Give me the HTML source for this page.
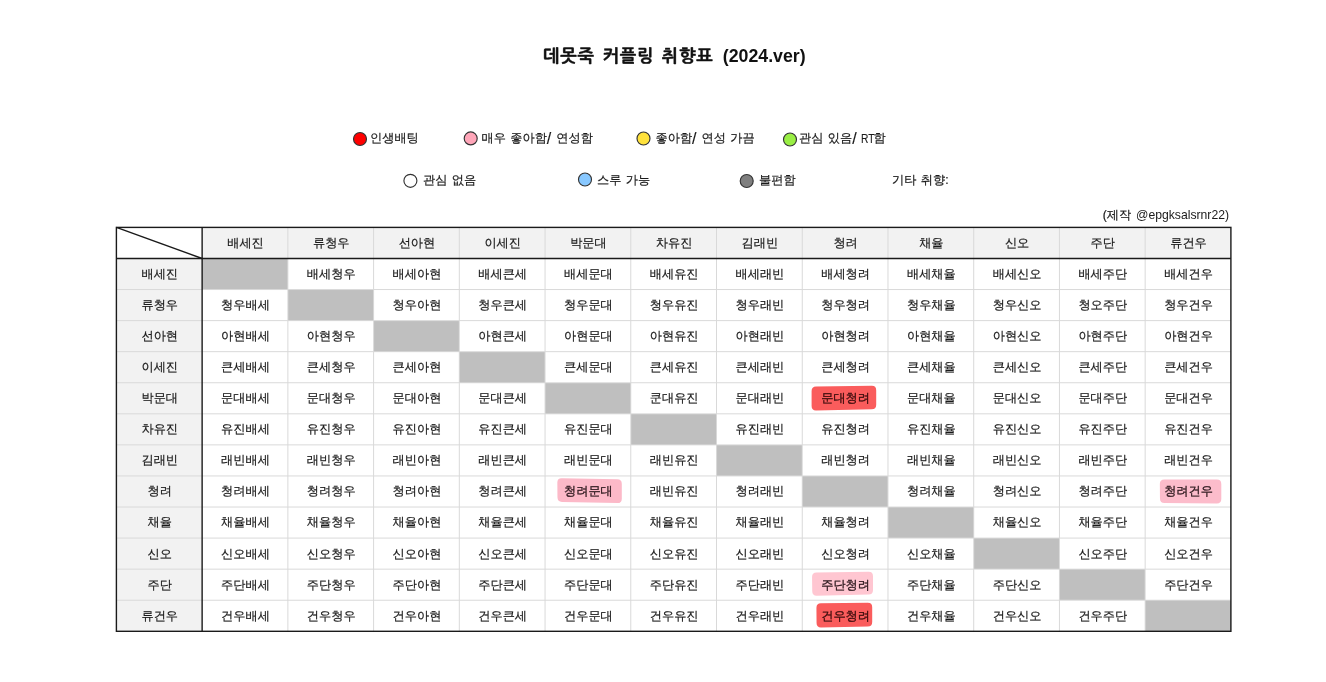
<!DOCTYPE html>
<html lang="ko">
<head>
<meta charset="utf-8">
<title>데못죽 커플링 취향표 (2024.ver)</title>
<style>
html,body{margin:0;padding:0;background:#fff;}
body{width:1326px;height:682px;position:relative;overflow:hidden;font-family:"Liberation Sans","WenQuanYi Zen Hei","NanumGothic","Noto Sans CJK KR",sans-serif;color:#1a1a1a;}
.abs{position:absolute;white-space:nowrap;}
.title{left:543px;top:40.5px;font-family:"Liberation Sans","NanumGothic","Noto Sans CJK KR",sans-serif;font-size:17.5px;font-weight:700;line-height:30px;color:#111;word-spacing:4.3px;}
.title .ko{letter-spacing:0.8px;word-spacing:2px;-webkit-text-stroke:0.45px #111;}
.title .en{font-size:17.75px;}
.lg{word-spacing:1px;font-size:12.2px;line-height:20px;color:#1a1a1a;-webkit-text-stroke:0.2px #1a1a1a;}
.sl{font-size:16px;line-height:1;margin-right:0.6px;position:relative;top:1.6px;-webkit-text-stroke:0.15px #1a1a1a;}
.rt{display:inline-block;font-size:12.8px;line-height:1;transform:scaleX(0.8);transform-origin:0 50%;margin:0 -4.4px 0 -0.6px;position:relative;top:1.2px;-webkit-text-stroke:0.1px #1a1a1a;}
.en2{-webkit-text-stroke:0;}
.credit{word-spacing:1.5px;font-size:12.2px;line-height:16px;color:#1a1a1a;-webkit-text-stroke:0.2px #1a1a1a;}
.c{position:absolute;display:flex;align-items:center;justify-content:center;font-family:"Liberation Sans","WenQuanYi Zen Hei","NanumGothic","Noto Sans CJK KR",sans-serif;font-size:12.2px;line-height:1;color:#1a1a1a;-webkit-text-stroke:0.2px #1a1a1a;white-space:nowrap;box-sizing:border-box;padding-left:1px;}
.h{background:#f2f2f2;}
.hl-red{color:#3a0c0c;-webkit-text-stroke:0.3px #3a0c0c;}
.hl-pink,.hl-pink2{color:#2c181d;-webkit-text-stroke:0.3px #2c181d;}
.g{background:#bfbfbf;}
svg{position:absolute;left:0;top:0;}
</style>
</head>
<body>
<div class="abs title"><span class="ko">데못죽 커플링 취향표</span> <span class="en">(2024.ver)</span></div>
<div class="abs lg" style="left:370.0px;top:128.3px">인생배팅</div>
<div class="abs lg" style="left:481.5px;top:128.3px">매우 좋아함<span class="sl">/</span> 연성함</div>
<div class="abs lg" style="left:655.5px;top:128.3px">좋아함<span class="sl">/</span> 연성 가끔</div>
<div class="abs lg" style="left:799.0px;top:128.3px">관심 있음<span class="sl">/</span> <span class="rt">RT</span>함</div>
<div class="abs lg" style="left:423.0px;top:170.1px">관심 없음</div>
<div class="abs lg" style="left:597.0px;top:170.1px">스루 가능</div>
<div class="abs lg" style="left:759.0px;top:170.1px">불편함</div>
<div class="abs lg" style="left:892px;top:170.1px">기타 취향:</div>
<div class="abs credit" style="right:97.0px;top:207px">(제작 <span class="en2">@epgksalsrnr22)</span></div>
<svg width="1326" height="682" viewBox="0 0 1326 682"><defs><filter id="soft" x="-10%" y="-20%" width="120%" height="140%"><feGaussianBlur stdDeviation="0.45"/></filter></defs><g filter="url(#soft)">
<path d="M811.60 391.10 Q811.60 386.60 816.10 386.54 L871.70 385.76 Q876.20 385.70 876.20 390.20 L876.20 404.70 Q876.20 409.20 871.70 409.29 L816.10 410.41 Q811.60 410.50 811.60 406.00Z" fill="#fa5c5c"/>
<path d="M816.44 607.90 Q816.40 603.40 820.90 603.35 L867.70 602.85 Q872.20 602.80 872.20 607.30 L872.20 622.00 Q872.20 626.50 867.70 626.59 L821.10 627.51 Q816.60 627.60 816.56 623.10Z" fill="#fa5c5c"/>
<path d="M812.06 577.10 Q812.00 572.60 816.50 572.53 L868.50 571.77 Q873.00 571.70 873.00 576.20 L873.00 590.00 Q873.00 594.50 868.50 594.60 L816.80 595.70 Q812.30 595.80 812.24 591.30Z" fill="#ffc6d1"/>
<path d="M557.34 482.60 Q557.30 478.10 561.80 478.19 L617.30 479.31 Q621.80 479.40 621.80 483.90 L621.80 498.70 Q621.80 503.20 617.30 503.10 L562.00 501.90 Q557.50 501.80 557.46 497.30Z" fill="#fcb9c8"/>
<path d="M1159.84 484.10 Q1159.80 479.60 1164.30 479.59 L1216.80 479.41 Q1221.30 479.40 1221.30 483.90 L1221.30 499.10 Q1221.30 503.60 1216.80 503.56 L1164.50 503.04 Q1160.00 503.00 1159.96 498.50Z" fill="#fcbccb"/>
</g></svg>
<div class="c h" style="left:202.13px;top:227.40px;width:85.73px;height:31.07px">배세진</div>
<div class="c h" style="left:116.40px;top:258.47px;width:85.73px;height:31.07px">배세진</div>
<div class="c h" style="left:287.86px;top:227.40px;width:85.73px;height:31.07px">류청우</div>
<div class="c h" style="left:116.40px;top:289.54px;width:85.73px;height:31.07px">류청우</div>
<div class="c h" style="left:373.59px;top:227.40px;width:85.73px;height:31.07px">선아현</div>
<div class="c h" style="left:116.40px;top:320.61px;width:85.73px;height:31.07px">선아현</div>
<div class="c h" style="left:459.32px;top:227.40px;width:85.73px;height:31.07px">이세진</div>
<div class="c h" style="left:116.40px;top:351.68px;width:85.73px;height:31.07px">이세진</div>
<div class="c h" style="left:545.05px;top:227.40px;width:85.73px;height:31.07px">박문대</div>
<div class="c h" style="left:116.40px;top:382.75px;width:85.73px;height:31.07px">박문대</div>
<div class="c h" style="left:630.78px;top:227.40px;width:85.73px;height:31.07px">차유진</div>
<div class="c h" style="left:116.40px;top:413.82px;width:85.73px;height:31.07px">차유진</div>
<div class="c h" style="left:716.52px;top:227.40px;width:85.73px;height:31.07px">김래빈</div>
<div class="c h" style="left:116.40px;top:444.88px;width:85.73px;height:31.07px">김래빈</div>
<div class="c h" style="left:802.25px;top:227.40px;width:85.73px;height:31.07px">청려</div>
<div class="c h" style="left:116.40px;top:475.95px;width:85.73px;height:31.07px">청려</div>
<div class="c h" style="left:887.98px;top:227.40px;width:85.73px;height:31.07px">채율</div>
<div class="c h" style="left:116.40px;top:507.02px;width:85.73px;height:31.07px">채율</div>
<div class="c h" style="left:973.71px;top:227.40px;width:85.73px;height:31.07px">신오</div>
<div class="c h" style="left:116.40px;top:538.09px;width:85.73px;height:31.07px">신오</div>
<div class="c h" style="left:1059.44px;top:227.40px;width:85.73px;height:31.07px">주단</div>
<div class="c h" style="left:116.40px;top:569.16px;width:85.73px;height:31.07px">주단</div>
<div class="c h" style="left:1145.17px;top:227.40px;width:85.73px;height:31.07px">류건우</div>
<div class="c h" style="left:116.40px;top:600.23px;width:85.73px;height:31.07px">류건우</div>
<div class="c g" style="left:202.13px;top:258.47px;width:85.73px;height:31.07px"></div>
<div class="c" style="left:287.86px;top:258.47px;width:85.73px;height:31.07px">배세청우</div>
<div class="c" style="left:373.59px;top:258.47px;width:85.73px;height:31.07px">배세아현</div>
<div class="c" style="left:459.32px;top:258.47px;width:85.73px;height:31.07px">배세큰세</div>
<div class="c" style="left:545.05px;top:258.47px;width:85.73px;height:31.07px">배세문대</div>
<div class="c" style="left:630.78px;top:258.47px;width:85.73px;height:31.07px">배세유진</div>
<div class="c" style="left:716.52px;top:258.47px;width:85.73px;height:31.07px">배세래빈</div>
<div class="c" style="left:802.25px;top:258.47px;width:85.73px;height:31.07px">배세청려</div>
<div class="c" style="left:887.98px;top:258.47px;width:85.73px;height:31.07px">배세채율</div>
<div class="c" style="left:973.71px;top:258.47px;width:85.73px;height:31.07px">배세신오</div>
<div class="c" style="left:1059.44px;top:258.47px;width:85.73px;height:31.07px">배세주단</div>
<div class="c" style="left:1145.17px;top:258.47px;width:85.73px;height:31.07px">배세건우</div>
<div class="c" style="left:202.13px;top:289.54px;width:85.73px;height:31.07px">청우배세</div>
<div class="c g" style="left:287.86px;top:289.54px;width:85.73px;height:31.07px"></div>
<div class="c" style="left:373.59px;top:289.54px;width:85.73px;height:31.07px">청우아현</div>
<div class="c" style="left:459.32px;top:289.54px;width:85.73px;height:31.07px">청우큰세</div>
<div class="c" style="left:545.05px;top:289.54px;width:85.73px;height:31.07px">청우문대</div>
<div class="c" style="left:630.78px;top:289.54px;width:85.73px;height:31.07px">청우유진</div>
<div class="c" style="left:716.52px;top:289.54px;width:85.73px;height:31.07px">청우래빈</div>
<div class="c" style="left:802.25px;top:289.54px;width:85.73px;height:31.07px">청우청려</div>
<div class="c" style="left:887.98px;top:289.54px;width:85.73px;height:31.07px">청우채율</div>
<div class="c" style="left:973.71px;top:289.54px;width:85.73px;height:31.07px">청우신오</div>
<div class="c" style="left:1059.44px;top:289.54px;width:85.73px;height:31.07px">청오주단</div>
<div class="c" style="left:1145.17px;top:289.54px;width:85.73px;height:31.07px">청우건우</div>
<div class="c" style="left:202.13px;top:320.61px;width:85.73px;height:31.07px">아현배세</div>
<div class="c" style="left:287.86px;top:320.61px;width:85.73px;height:31.07px">아현청우</div>
<div class="c g" style="left:373.59px;top:320.61px;width:85.73px;height:31.07px"></div>
<div class="c" style="left:459.32px;top:320.61px;width:85.73px;height:31.07px">아현큰세</div>
<div class="c" style="left:545.05px;top:320.61px;width:85.73px;height:31.07px">아현문대</div>
<div class="c" style="left:630.78px;top:320.61px;width:85.73px;height:31.07px">아현유진</div>
<div class="c" style="left:716.52px;top:320.61px;width:85.73px;height:31.07px">아현래빈</div>
<div class="c" style="left:802.25px;top:320.61px;width:85.73px;height:31.07px">아현청려</div>
<div class="c" style="left:887.98px;top:320.61px;width:85.73px;height:31.07px">아현채율</div>
<div class="c" style="left:973.71px;top:320.61px;width:85.73px;height:31.07px">아현신오</div>
<div class="c" style="left:1059.44px;top:320.61px;width:85.73px;height:31.07px">아현주단</div>
<div class="c" style="left:1145.17px;top:320.61px;width:85.73px;height:31.07px">아현건우</div>
<div class="c" style="left:202.13px;top:351.68px;width:85.73px;height:31.07px">큰세배세</div>
<div class="c" style="left:287.86px;top:351.68px;width:85.73px;height:31.07px">큰세청우</div>
<div class="c" style="left:373.59px;top:351.68px;width:85.73px;height:31.07px">큰세아현</div>
<div class="c g" style="left:459.32px;top:351.68px;width:85.73px;height:31.07px"></div>
<div class="c" style="left:545.05px;top:351.68px;width:85.73px;height:31.07px">큰세문대</div>
<div class="c" style="left:630.78px;top:351.68px;width:85.73px;height:31.07px">큰세유진</div>
<div class="c" style="left:716.52px;top:351.68px;width:85.73px;height:31.07px">큰세래빈</div>
<div class="c" style="left:802.25px;top:351.68px;width:85.73px;height:31.07px">큰세청려</div>
<div class="c" style="left:887.98px;top:351.68px;width:85.73px;height:31.07px">큰세채율</div>
<div class="c" style="left:973.71px;top:351.68px;width:85.73px;height:31.07px">큰세신오</div>
<div class="c" style="left:1059.44px;top:351.68px;width:85.73px;height:31.07px">큰세주단</div>
<div class="c" style="left:1145.17px;top:351.68px;width:85.73px;height:31.07px">큰세건우</div>
<div class="c" style="left:202.13px;top:382.75px;width:85.73px;height:31.07px">문대배세</div>
<div class="c" style="left:287.86px;top:382.75px;width:85.73px;height:31.07px">문대청우</div>
<div class="c" style="left:373.59px;top:382.75px;width:85.73px;height:31.07px">문대아현</div>
<div class="c" style="left:459.32px;top:382.75px;width:85.73px;height:31.07px">문대큰세</div>
<div class="c g" style="left:545.05px;top:382.75px;width:85.73px;height:31.07px"></div>
<div class="c" style="left:630.78px;top:382.75px;width:85.73px;height:31.07px">쿤대유진</div>
<div class="c" style="left:716.52px;top:382.75px;width:85.73px;height:31.07px">문대래빈</div>
<div class="c hl-red" style="left:802.25px;top:382.75px;width:85.73px;height:31.07px">문대청려</div>
<div class="c" style="left:887.98px;top:382.75px;width:85.73px;height:31.07px">문대채율</div>
<div class="c" style="left:973.71px;top:382.75px;width:85.73px;height:31.07px">문대신오</div>
<div class="c" style="left:1059.44px;top:382.75px;width:85.73px;height:31.07px">문대주단</div>
<div class="c" style="left:1145.17px;top:382.75px;width:85.73px;height:31.07px">문대건우</div>
<div class="c" style="left:202.13px;top:413.82px;width:85.73px;height:31.07px">유진배세</div>
<div class="c" style="left:287.86px;top:413.82px;width:85.73px;height:31.07px">유진청우</div>
<div class="c" style="left:373.59px;top:413.82px;width:85.73px;height:31.07px">유진아현</div>
<div class="c" style="left:459.32px;top:413.82px;width:85.73px;height:31.07px">유진큰세</div>
<div class="c" style="left:545.05px;top:413.82px;width:85.73px;height:31.07px">유진문대</div>
<div class="c g" style="left:630.78px;top:413.82px;width:85.73px;height:31.07px"></div>
<div class="c" style="left:716.52px;top:413.82px;width:85.73px;height:31.07px">유진래빈</div>
<div class="c" style="left:802.25px;top:413.82px;width:85.73px;height:31.07px">유진청려</div>
<div class="c" style="left:887.98px;top:413.82px;width:85.73px;height:31.07px">유진채율</div>
<div class="c" style="left:973.71px;top:413.82px;width:85.73px;height:31.07px">유진신오</div>
<div class="c" style="left:1059.44px;top:413.82px;width:85.73px;height:31.07px">유진주단</div>
<div class="c" style="left:1145.17px;top:413.82px;width:85.73px;height:31.07px">유진건우</div>
<div class="c" style="left:202.13px;top:444.88px;width:85.73px;height:31.07px">래빈배세</div>
<div class="c" style="left:287.86px;top:444.88px;width:85.73px;height:31.07px">래빈청우</div>
<div class="c" style="left:373.59px;top:444.88px;width:85.73px;height:31.07px">래빈아현</div>
<div class="c" style="left:459.32px;top:444.88px;width:85.73px;height:31.07px">래빈큰세</div>
<div class="c" style="left:545.05px;top:444.88px;width:85.73px;height:31.07px">래빈문대</div>
<div class="c" style="left:630.78px;top:444.88px;width:85.73px;height:31.07px">래빈유진</div>
<div class="c g" style="left:716.52px;top:444.88px;width:85.73px;height:31.07px"></div>
<div class="c" style="left:802.25px;top:444.88px;width:85.73px;height:31.07px">래빈청려</div>
<div class="c" style="left:887.98px;top:444.88px;width:85.73px;height:31.07px">래빈채율</div>
<div class="c" style="left:973.71px;top:444.88px;width:85.73px;height:31.07px">래빈신오</div>
<div class="c" style="left:1059.44px;top:444.88px;width:85.73px;height:31.07px">래빈주단</div>
<div class="c" style="left:1145.17px;top:444.88px;width:85.73px;height:31.07px">래빈건우</div>
<div class="c" style="left:202.13px;top:475.95px;width:85.73px;height:31.07px">청려배세</div>
<div class="c" style="left:287.86px;top:475.95px;width:85.73px;height:31.07px">청려청우</div>
<div class="c" style="left:373.59px;top:475.95px;width:85.73px;height:31.07px">청려아현</div>
<div class="c" style="left:459.32px;top:475.95px;width:85.73px;height:31.07px">청려큰세</div>
<div class="c hl-pink" style="left:545.05px;top:475.95px;width:85.73px;height:31.07px">청려문대</div>
<div class="c" style="left:630.78px;top:475.95px;width:85.73px;height:31.07px">래빈유진</div>
<div class="c" style="left:716.52px;top:475.95px;width:85.73px;height:31.07px">청려래빈</div>
<div class="c g" style="left:802.25px;top:475.95px;width:85.73px;height:31.07px"></div>
<div class="c" style="left:887.98px;top:475.95px;width:85.73px;height:31.07px">청려채율</div>
<div class="c" style="left:973.71px;top:475.95px;width:85.73px;height:31.07px">청려신오</div>
<div class="c" style="left:1059.44px;top:475.95px;width:85.73px;height:31.07px">청려주단</div>
<div class="c hl-pink" style="left:1145.17px;top:475.95px;width:85.73px;height:31.07px">청려건우</div>
<div class="c" style="left:202.13px;top:507.02px;width:85.73px;height:31.07px">채율배세</div>
<div class="c" style="left:287.86px;top:507.02px;width:85.73px;height:31.07px">채율청우</div>
<div class="c" style="left:373.59px;top:507.02px;width:85.73px;height:31.07px">채율아현</div>
<div class="c" style="left:459.32px;top:507.02px;width:85.73px;height:31.07px">채율큰세</div>
<div class="c" style="left:545.05px;top:507.02px;width:85.73px;height:31.07px">채율문대</div>
<div class="c" style="left:630.78px;top:507.02px;width:85.73px;height:31.07px">채율유진</div>
<div class="c" style="left:716.52px;top:507.02px;width:85.73px;height:31.07px">채율래빈</div>
<div class="c" style="left:802.25px;top:507.02px;width:85.73px;height:31.07px">채율청려</div>
<div class="c g" style="left:887.98px;top:507.02px;width:85.73px;height:31.07px"></div>
<div class="c" style="left:973.71px;top:507.02px;width:85.73px;height:31.07px">채율신오</div>
<div class="c" style="left:1059.44px;top:507.02px;width:85.73px;height:31.07px">채율주단</div>
<div class="c" style="left:1145.17px;top:507.02px;width:85.73px;height:31.07px">채율건우</div>
<div class="c" style="left:202.13px;top:538.09px;width:85.73px;height:31.07px">신오배세</div>
<div class="c" style="left:287.86px;top:538.09px;width:85.73px;height:31.07px">신오청우</div>
<div class="c" style="left:373.59px;top:538.09px;width:85.73px;height:31.07px">신오아현</div>
<div class="c" style="left:459.32px;top:538.09px;width:85.73px;height:31.07px">신오큰세</div>
<div class="c" style="left:545.05px;top:538.09px;width:85.73px;height:31.07px">신오문대</div>
<div class="c" style="left:630.78px;top:538.09px;width:85.73px;height:31.07px">신오유진</div>
<div class="c" style="left:716.52px;top:538.09px;width:85.73px;height:31.07px">신오래빈</div>
<div class="c" style="left:802.25px;top:538.09px;width:85.73px;height:31.07px">신오청려</div>
<div class="c" style="left:887.98px;top:538.09px;width:85.73px;height:31.07px">신오채율</div>
<div class="c g" style="left:973.71px;top:538.09px;width:85.73px;height:31.07px"></div>
<div class="c" style="left:1059.44px;top:538.09px;width:85.73px;height:31.07px">신오주단</div>
<div class="c" style="left:1145.17px;top:538.09px;width:85.73px;height:31.07px">신오건우</div>
<div class="c" style="left:202.13px;top:569.16px;width:85.73px;height:31.07px">주단배세</div>
<div class="c" style="left:287.86px;top:569.16px;width:85.73px;height:31.07px">주단청우</div>
<div class="c" style="left:373.59px;top:569.16px;width:85.73px;height:31.07px">주단아현</div>
<div class="c" style="left:459.32px;top:569.16px;width:85.73px;height:31.07px">주단큰세</div>
<div class="c" style="left:545.05px;top:569.16px;width:85.73px;height:31.07px">주단문대</div>
<div class="c" style="left:630.78px;top:569.16px;width:85.73px;height:31.07px">주단유진</div>
<div class="c" style="left:716.52px;top:569.16px;width:85.73px;height:31.07px">주단래빈</div>
<div class="c hl-pink2" style="left:802.25px;top:569.16px;width:85.73px;height:31.07px">주단청려</div>
<div class="c" style="left:887.98px;top:569.16px;width:85.73px;height:31.07px">주단채율</div>
<div class="c" style="left:973.71px;top:569.16px;width:85.73px;height:31.07px">주단신오</div>
<div class="c g" style="left:1059.44px;top:569.16px;width:85.73px;height:31.07px"></div>
<div class="c" style="left:1145.17px;top:569.16px;width:85.73px;height:31.07px">주단건우</div>
<div class="c" style="left:202.13px;top:600.23px;width:85.73px;height:31.07px">건우배세</div>
<div class="c" style="left:287.86px;top:600.23px;width:85.73px;height:31.07px">건우청우</div>
<div class="c" style="left:373.59px;top:600.23px;width:85.73px;height:31.07px">건우아현</div>
<div class="c" style="left:459.32px;top:600.23px;width:85.73px;height:31.07px">건우큰세</div>
<div class="c" style="left:545.05px;top:600.23px;width:85.73px;height:31.07px">건우문대</div>
<div class="c" style="left:630.78px;top:600.23px;width:85.73px;height:31.07px">건우유진</div>
<div class="c" style="left:716.52px;top:600.23px;width:85.73px;height:31.07px">건우래빈</div>
<div class="c hl-red" style="left:802.25px;top:600.23px;width:85.73px;height:31.07px">건우청려</div>
<div class="c" style="left:887.98px;top:600.23px;width:85.73px;height:31.07px">건우채율</div>
<div class="c" style="left:973.71px;top:600.23px;width:85.73px;height:31.07px">건우신오</div>
<div class="c" style="left:1059.44px;top:600.23px;width:85.73px;height:31.07px">건우주단</div>
<div class="c g" style="left:1145.17px;top:600.23px;width:85.73px;height:31.07px"></div>
<svg width="1326" height="682" viewBox="0 0 1326 682">
<line x1="287.86" y1="227.40" x2="287.86" y2="631.30" stroke="#d9d9d9" stroke-width="1"/>
<line x1="116.40" y1="289.54" x2="1230.90" y2="289.54" stroke="#d9d9d9" stroke-width="1"/>
<line x1="373.59" y1="227.40" x2="373.59" y2="631.30" stroke="#d9d9d9" stroke-width="1"/>
<line x1="116.40" y1="320.61" x2="1230.90" y2="320.61" stroke="#d9d9d9" stroke-width="1"/>
<line x1="459.32" y1="227.40" x2="459.32" y2="631.30" stroke="#d9d9d9" stroke-width="1"/>
<line x1="116.40" y1="351.68" x2="1230.90" y2="351.68" stroke="#d9d9d9" stroke-width="1"/>
<line x1="545.05" y1="227.40" x2="545.05" y2="631.30" stroke="#d9d9d9" stroke-width="1"/>
<line x1="116.40" y1="382.75" x2="1230.90" y2="382.75" stroke="#d9d9d9" stroke-width="1"/>
<line x1="630.78" y1="227.40" x2="630.78" y2="631.30" stroke="#d9d9d9" stroke-width="1"/>
<line x1="116.40" y1="413.82" x2="1230.90" y2="413.82" stroke="#d9d9d9" stroke-width="1"/>
<line x1="716.52" y1="227.40" x2="716.52" y2="631.30" stroke="#d9d9d9" stroke-width="1"/>
<line x1="116.40" y1="444.88" x2="1230.90" y2="444.88" stroke="#d9d9d9" stroke-width="1"/>
<line x1="802.25" y1="227.40" x2="802.25" y2="631.30" stroke="#d9d9d9" stroke-width="1"/>
<line x1="116.40" y1="475.95" x2="1230.90" y2="475.95" stroke="#d9d9d9" stroke-width="1"/>
<line x1="887.98" y1="227.40" x2="887.98" y2="631.30" stroke="#d9d9d9" stroke-width="1"/>
<line x1="116.40" y1="507.02" x2="1230.90" y2="507.02" stroke="#d9d9d9" stroke-width="1"/>
<line x1="973.71" y1="227.40" x2="973.71" y2="631.30" stroke="#d9d9d9" stroke-width="1"/>
<line x1="116.40" y1="538.09" x2="1230.90" y2="538.09" stroke="#d9d9d9" stroke-width="1"/>
<line x1="1059.44" y1="227.40" x2="1059.44" y2="631.30" stroke="#d9d9d9" stroke-width="1"/>
<line x1="116.40" y1="569.16" x2="1230.90" y2="569.16" stroke="#d9d9d9" stroke-width="1"/>
<line x1="1145.17" y1="227.40" x2="1145.17" y2="631.30" stroke="#d9d9d9" stroke-width="1"/>
<line x1="116.40" y1="600.23" x2="1230.90" y2="600.23" stroke="#d9d9d9" stroke-width="1"/>
<rect x="116.40" y="227.40" width="1114.50" height="403.90" fill="none" stroke="#1a1a1a" stroke-width="1.4"/>
<line x1="116.40" y1="258.47" x2="1230.90" y2="258.47" stroke="#1a1a1a" stroke-width="1.4"/>
<line x1="202.13" y1="227.40" x2="202.13" y2="631.30" stroke="#1a1a1a" stroke-width="1.4"/>
<line x1="116.40" y1="227.40" x2="202.13" y2="258.47" stroke="#1a1a1a" stroke-width="1.4"/>
<circle cx="360.0" cy="139.0" r="6.5" fill="#ff0000" stroke="#333" stroke-width="1.15"/>
<circle cx="470.7" cy="138.4" r="6.5" fill="#ffa6b9" stroke="#333" stroke-width="1.15"/>
<circle cx="643.5" cy="138.5" r="6.5" fill="#ffe23c" stroke="#333" stroke-width="1.15"/>
<circle cx="790.0" cy="139.5" r="6.5" fill="#99ee44" stroke="#333" stroke-width="1.15"/>
<circle cx="410.4" cy="180.8" r="6.5" fill="#ffffff" stroke="#333" stroke-width="1.15"/>
<circle cx="585.0" cy="179.5" r="6.5" fill="#88c8ff" stroke="#333" stroke-width="1.15"/>
<circle cx="746.7" cy="181.0" r="6.5" fill="#7f7f7f" stroke="#333" stroke-width="1.15"/>
</svg>
</body>
</html>
